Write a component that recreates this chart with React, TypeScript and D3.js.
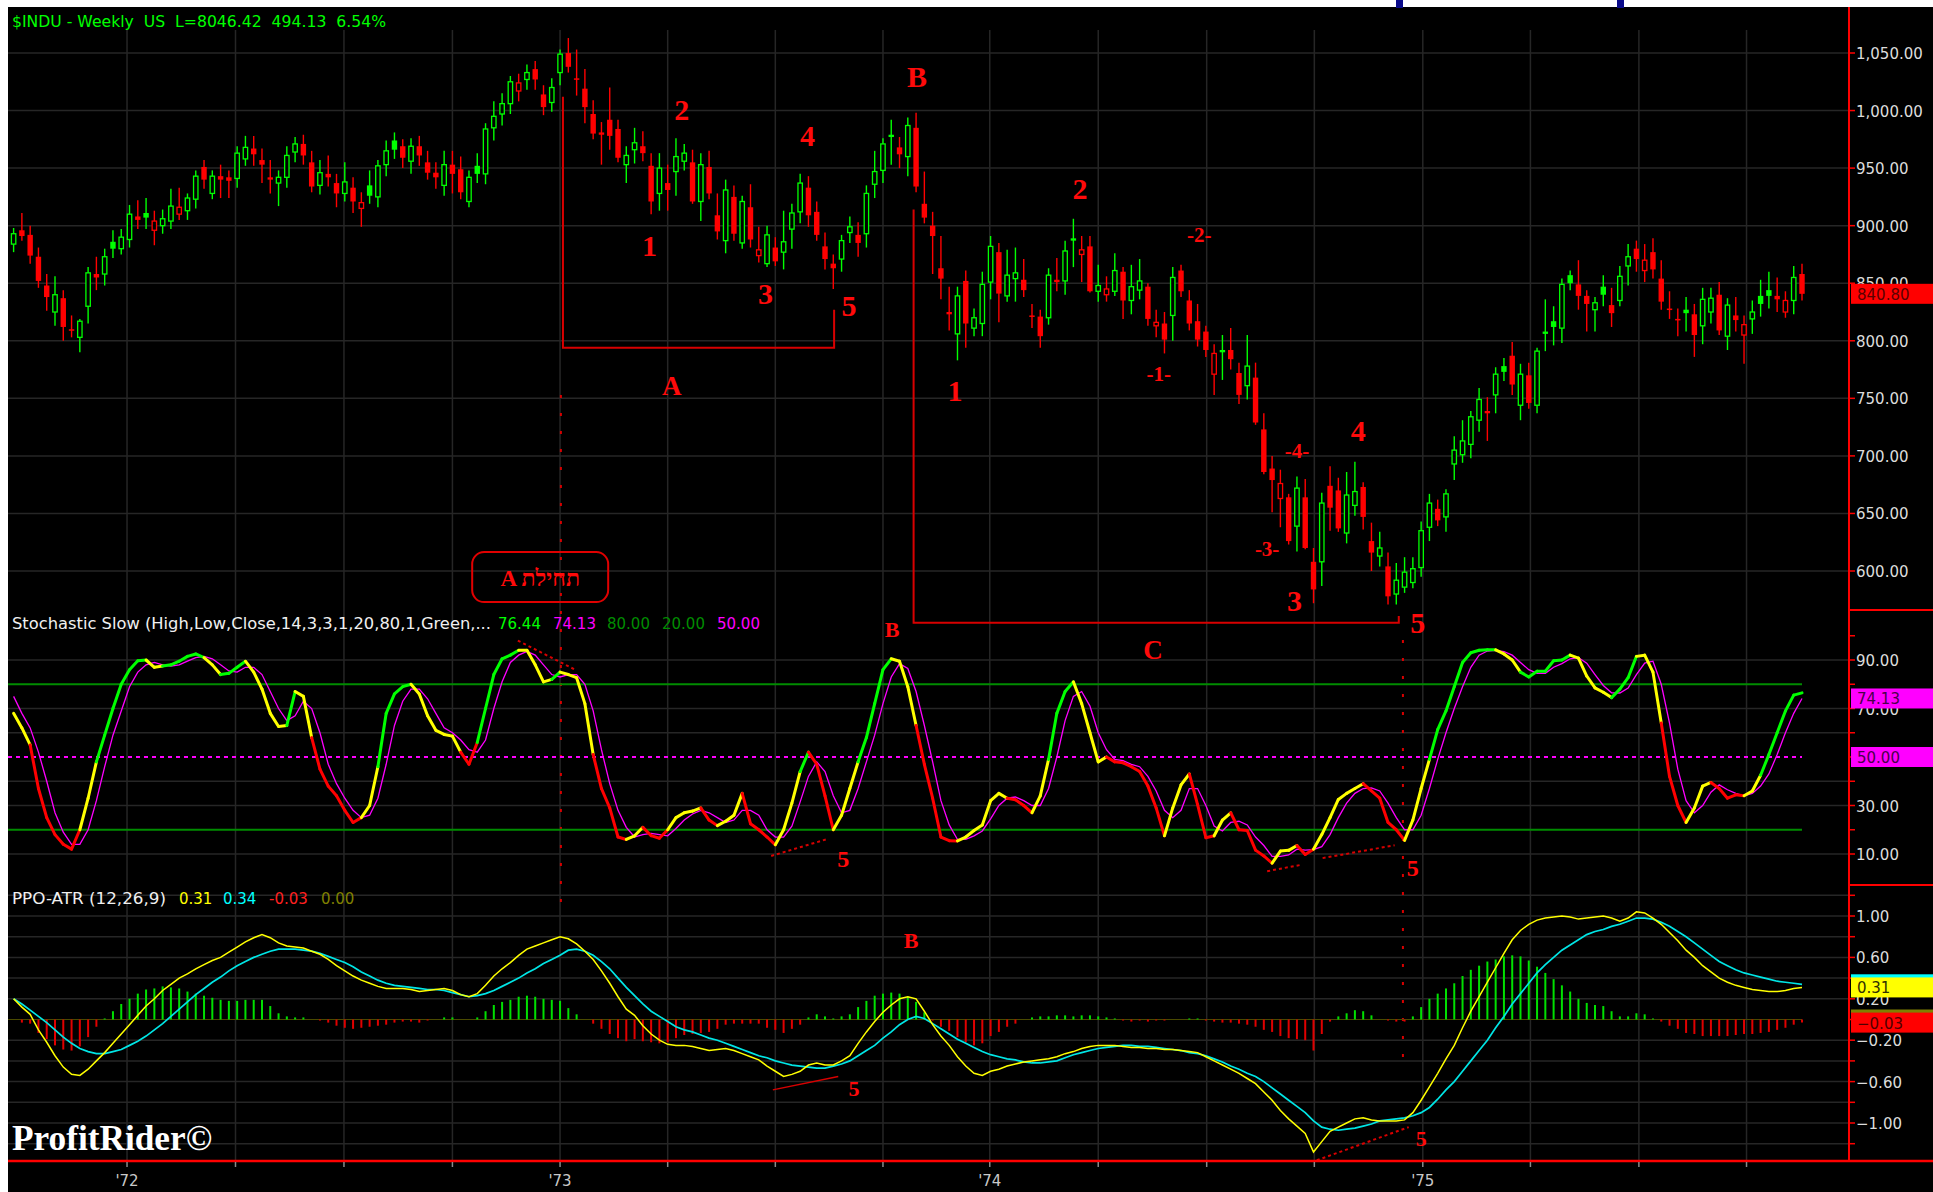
import React from "react";
import * as d3 from "d3";

// $INDU weekly candles, autumn 1971 to autumn 1975
const opens = [
  884, 896, 892, 873, 848, 825, 837, 810, 803, 830,
  858, 858, 886, 880, 888, 908, 911, 896, 900, 904,
  910, 913, 923, 951, 928, 943, 942, 941, 958, 967,
  957, 942, 937, 942, 964, 971, 955, 935, 945, 937,
  928, 933, 915, 935, 925, 953, 974, 969, 956, 969,
  955, 946, 935, 953, 949, 921, 952, 945, 985, 997,
  1006, 1017, 1027, 1036, 1014, 1007, 1033, 1050, 1028, 1019,
  997, 981, 992, 984, 953, 966, 969, 952, 928, 937,
  947, 956, 955, 921, 951, 909, 887, 925, 885, 916,
  874, 867, 881, 877, 897, 912, 933, 912, 882, 867,
  871, 894, 892, 893, 936, 948, 979, 968, 960, 985,
  919, 900, 863, 825, 806, 852, 811, 815, 851, 877,
  839, 854, 853, 822, 821, 820, 853, 852, 889, 875,
  882, 843, 840, 843, 860, 835, 844, 847, 813, 815,
  822, 861, 835, 817, 808, 771, 792, 792, 772, 761,
  768, 723, 689, 663, 664, 639, 664, 608, 608, 674,
  670, 633, 657, 673, 626, 613, 604, 580, 586, 590,
  603, 638, 654, 647, 693, 701, 710, 731, 739, 753,
  778, 787, 744, 770, 744, 808, 817, 811, 857, 849,
  839, 827, 847, 831, 835, 865, 880, 861, 877, 854,
  828, 819, 827, 823, 813, 825, 840, 804, 822, 805,
  819, 839, 844, 839, 825, 835, 858,
];
const highs = [
  898, 911, 900, 881, 858, 856, 844, 822, 819, 864,
  873, 880, 896, 897, 918, 922, 924, 913, 914, 932,
  933, 928, 948, 957, 948, 953, 948, 969, 978, 978,
  967, 957, 948, 969, 977, 979, 965, 957, 961, 945,
  955, 942, 929, 948, 957, 974, 981, 975, 976, 978,
  965, 955, 965, 965, 960, 948, 963, 989, 1008, 1015,
  1030, 1032, 1040, 1043, 1022, 1028, 1053, 1063, 1053, 1036,
  1009, 990, 1020, 992, 969, 985, 982, 963, 963, 953,
  976, 971, 966, 963, 965, 928, 940, 935, 926, 936,
  899, 900, 890, 913, 919, 945, 943, 921, 894, 875,
  892, 908, 903, 935, 965, 976, 992, 977, 994, 998,
  947, 912, 891, 847, 847, 861, 828, 860, 891, 885,
  879, 881, 871, 832, 827, 863, 872, 887, 906, 891,
  891, 866, 856, 876, 864, 866, 871, 850, 827, 825,
  864, 866, 844, 832, 813, 797, 805, 811, 781, 805,
  781, 737, 700, 688, 667, 682, 680, 620, 668, 691,
  681, 686, 695, 677, 642, 634, 616, 607, 612, 612,
  643, 667, 662, 671, 717, 731, 739, 759, 751, 777,
  785, 799, 780, 781, 794, 836, 830, 854, 861, 870,
  844, 838, 857, 846, 865, 884, 887, 884, 889, 870,
  843, 828, 838, 832, 846, 846, 851, 837, 838, 822,
  835, 853, 860, 855, 843, 865, 867,
];
const lows = [
  877, 887, 867, 846, 826, 813, 800, 803, 790, 815,
  844, 848, 872, 875, 881, 897, 897, 883, 893, 897,
  905, 905, 915, 932, 923, 924, 924, 933, 952, 952,
  937, 928, 917, 933, 955, 953, 929, 927, 934, 916,
  921, 911, 899, 919, 916, 943, 958, 950, 945, 952,
  940, 932, 926, 928, 923, 916, 937, 936, 974, 987,
  997, 1008, 1018, 1018, 996, 999, 1022, 1033, 1013, 989,
  975, 953, 966, 955, 937, 954, 956, 910, 913, 913,
  926, 948, 919, 904, 923, 888, 876, 887, 880, 881,
  868, 864, 865, 862, 880, 902, 899, 887, 862, 845,
  860, 885, 873, 881, 924, 937, 953, 950, 943, 929,
  902, 858, 836, 809, 783, 794, 804, 804, 836, 816,
  834, 834, 838, 811, 794, 814, 843, 840, 864, 851,
  842, 834, 834, 839, 819, 823, 836, 813, 803, 789,
  800, 838, 809, 795, 786, 753, 766, 775, 745, 749,
  727, 684, 651, 638, 623, 617, 619, 572, 587, 635,
  634, 624, 648, 636, 600, 604, 571, 571, 581, 585,
  595, 626, 639, 634, 679, 694, 698, 721, 713, 737,
  765, 753, 731, 741, 737, 791, 796, 798, 844, 827,
  808, 808, 830, 812, 830, 848, 860, 851, 854, 827,
  819, 804, 808, 786, 797, 815, 805, 792, 808, 780,
  806, 821, 828, 825, 820, 823, 835,
];
const closes = [
  893, 891, 874, 852, 838, 840, 812, 809, 817, 859,
  855, 873, 880, 890, 910, 905, 907, 904, 906, 917,
  916, 924, 943, 940, 943, 940, 939, 963, 968, 962,
  953, 940, 942, 961, 971, 961, 934, 946, 942, 928,
  938, 921, 920, 926, 952, 965, 966, 959, 969, 961,
  946, 942, 953, 945, 929, 942, 945, 984, 995, 1006,
  1025, 1024, 1033, 1027, 1003, 1020, 1049, 1038, 1027, 1003,
  980, 979, 978, 959, 961, 972, 963, 921, 950, 931,
  960, 963, 921, 953, 928, 895, 931, 893, 921, 888,
  879, 892, 869, 886, 911, 937, 909, 892, 871, 863,
  887, 899, 885, 928, 947, 971, 977, 962, 987, 934,
  907, 891, 854, 823, 839, 815, 820, 849, 882, 841,
  857, 859, 844, 821, 804, 857, 851, 878, 887, 879,
  843, 848, 845, 861, 835, 847, 852, 819, 816, 801,
  855, 843, 815, 801, 792, 789, 790, 784, 753, 778,
  729, 686, 679, 676, 626, 672, 620, 584, 659, 655,
  637, 666, 669, 647, 616, 620, 578, 592, 599, 602,
  635, 659, 644, 667, 705, 713, 734, 749, 737, 771,
  773, 762, 771, 746, 791, 806, 812, 849, 850, 839,
  832, 833, 840, 824, 856, 873, 871, 870, 862, 834,
  827, 818, 824, 805, 836, 837, 809, 831, 818, 814,
  825, 832, 839, 836, 835, 855, 840.8,
];

// Stochastic Slow %K and %D
const stochK = [
  68, 62, 55, 37, 25, 18, 14, 12, 20, 33,
  48, 59, 70, 80, 86, 89.7, 90, 87, 87.5, 88,
  89.5, 91.5, 92.5, 91, 88, 84, 84.5, 87, 89.5, 85,
  78, 68, 62.6, 63, 77, 75, 58, 45, 38, 34,
  28, 23, 25, 30, 46, 68, 76, 79, 80, 76,
  67, 61, 59.3, 58.6, 52, 47, 56, 70, 84, 90.5,
  92, 94, 94, 88, 81, 82, 85, 84, 82.7, 72,
  51, 37, 29, 17, 16, 17.5, 21, 17.6, 16.5, 20,
  25, 27, 27.7, 29, 24, 21.7, 23.5, 26, 35, 22.5,
  20, 17, 13.8, 20, 31, 44, 52, 47, 34, 20,
  26, 37, 48, 58, 72, 86, 90.5, 89.5, 79, 63,
  47, 33, 17, 15.5, 15.4, 17, 19.7, 22, 32, 35,
  33, 32.4, 30, 27, 34, 49, 68, 77, 81, 72,
  60, 48, 50, 48, 47.6, 46, 44, 38, 29, 17.5,
  29, 38.5, 43, 30.4, 16.7, 17.5, 24, 27, 20, 19.7,
  11.6, 9.2, 6.2, 11.2, 11.5, 13.5, 9.8, 12, 18, 25,
  32.5, 35, 37, 39, 36, 33, 23, 20, 15.6, 24,
  37, 49, 61.3, 69, 79, 89, 93, 94, 94.2, 94.2,
  92.5, 90, 85, 83, 85.4, 85.4, 89.7, 90, 92, 90.8,
  83.4, 78.5, 76.7, 74.5, 78, 82.7, 91.5, 92, 85, 64,
  42, 30, 23, 29, 38, 39.5, 37, 33, 34.4, 34,
  36, 42.5, 51, 60, 69, 75.5, 76.44,
];
const stochD = [
  75, 68, 62, 52, 40, 27, 19, 14, 14, 20,
  32, 46, 59, 69, 79, 85, 88, 89, 88, 87.5,
  88, 89.5, 91, 91.5, 90.5, 88, 85.5, 85, 87, 87,
  84, 77, 70, 65, 67, 73, 70, 60, 47, 39,
  33, 28, 25, 26, 33, 47, 63, 73, 78, 78,
  74, 68, 62, 60, 57, 53, 52, 57, 70, 81,
  89, 92, 93.5, 92, 88, 84, 83, 84, 84, 80,
  69, 53, 39, 28, 21, 17, 18, 18.5, 18, 17.5,
  20.5, 24, 26.5, 28, 27, 25, 23, 24, 28, 28,
  26, 20, 17, 17, 21.5, 31.5, 42, 48, 44, 34,
  27, 28, 37, 48, 59, 72, 83, 88.5, 86.5, 77,
  63, 48, 32, 22, 16, 16, 17.5, 19.5, 24.5, 30,
  33, 33.5, 32, 30, 30, 37, 50, 65, 75, 77,
  71, 60, 53, 49, 48.5, 47, 46, 42, 36, 28,
  25, 28, 37, 37, 30, 21.5, 19.5, 23, 23.5, 22,
  17, 13.5, 9, 9, 9.6, 12, 11.6, 11.8, 13, 18,
  25, 31, 35, 37, 37.3, 36, 31, 25, 20, 20,
  26, 37, 49, 60, 70, 79, 87, 92, 93.7, 94,
  93.5, 92, 89, 86, 84.5, 84.5, 87, 88.5, 90.5, 91,
  88.7, 84, 79.5, 76.5, 76.4, 78.4, 84, 88.7, 89.5, 80,
  64, 45, 32, 27, 30, 35.5, 38.5, 36.5, 35, 34,
  35, 38, 43, 51, 60, 68, 74.13,
];
// colour of the %K line at each week: g green, y yellow, r red
const stochColors =
  "yyyrrrrrry" + "yggggggyyg" + "ggggyygggy" + "yyyygyyrrr" + "rrryyggggy" +
  "yyyyyrrggg" + "ggyyyygyyy" + "yrrrryyrrr" + "yyyyrryyyr" + "rrryyygrrr" +
  "yyyggggyyy" + "rrrrryyyyy" + "yrrryygggy" + "yyyrrrrrrr" + "yyyrrryyrr" +
  "rrryyyrryy" + "yyyyrrrrry" + "yygggggggg" + "yyyggggggy" + "yyyygggyyy" +
  "rrryyyrrrr" + "yyggggg";

// PPO-ATR (12,26,9): line and signal
const ppoLine = [
  0.2, 0.12, 0.05, -0.1, -0.22, -0.35, -0.46, -0.53, -0.54, -0.48,
  -0.4, -0.32, -0.23, -0.14, -0.05, 0.04, 0.13, 0.2, 0.28, 0.34,
  0.4, 0.44, 0.49, 0.53, 0.57, 0.6, 0.65, 0.7, 0.75, 0.79,
  0.82, 0.79, 0.74, 0.71, 0.7, 0.69, 0.66, 0.63, 0.58, 0.52,
  0.47, 0.42, 0.38, 0.35, 0.32, 0.3, 0.3, 0.3, 0.29, 0.27,
  0.28, 0.29, 0.3, 0.28, 0.24, 0.22, 0.25, 0.33, 0.42, 0.49,
  0.55, 0.62, 0.68, 0.71, 0.74, 0.77, 0.8, 0.78, 0.73, 0.66,
  0.58, 0.47, 0.35, 0.22, 0.1, 0.04, -0.06, -0.14, -0.2, -0.24,
  -0.25, -0.25, -0.26, -0.28, -0.3, -0.29, -0.28, -0.3, -0.33, -0.36,
  -0.39, -0.45, -0.5, -0.55, -0.53, -0.5, -0.44, -0.42, -0.44, -0.44,
  -0.4, -0.35, -0.23, -0.12, -0.02, 0.07, 0.14, 0.2, 0.22, 0.2,
  0.08, -0.05, -0.16, -0.25, -0.36, -0.45, -0.52, -0.54, -0.5, -0.48,
  -0.45, -0.43, -0.41, -0.4, -0.39, -0.38, -0.36, -0.33, -0.31, -0.28,
  -0.26, -0.25, -0.25, -0.25, -0.26, -0.27, -0.27, -0.28, -0.28, -0.29,
  -0.29, -0.3, -0.31, -0.32, -0.36, -0.4, -0.44, -0.48, -0.52, -0.57,
  -0.62, -0.7, -0.78, -0.88, -0.96, -1.03, -1.1, -1.28, -1.18, -1.08,
  -1.04, -1.0, -0.96, -0.95, -0.97, -0.98, -0.98, -0.98, -0.97, -0.9,
  -0.78, -0.65, -0.52, -0.38, -0.25, -0.08, 0.08, 0.22, 0.36, 0.5,
  0.64, 0.77, 0.86, 0.92, 0.96, 0.98, 0.99, 1.0, 0.99, 0.97,
  0.98, 0.99, 1.0, 0.98, 0.95, 0.98, 1.04, 1.03, 0.98, 0.92,
  0.84, 0.76, 0.67, 0.6, 0.52, 0.46, 0.4, 0.36, 0.33, 0.31,
  0.29, 0.28, 0.27, 0.27, 0.28, 0.3, 0.31,
];
const ppoSignal = [
  0.2, 0.15, 0.09, 0.03, -0.03, -0.1, -0.17, -0.23, -0.28, -0.31,
  -0.33, -0.33, -0.31, -0.29, -0.25, -0.21, -0.16, -0.1, -0.04, 0.03,
  0.1, 0.17, 0.24, 0.3, 0.36, 0.41, 0.47, 0.52, 0.56, 0.6,
  0.63, 0.66, 0.68, 0.68, 0.68, 0.67, 0.66, 0.64, 0.61, 0.58,
  0.55, 0.51, 0.46, 0.42, 0.38, 0.35, 0.33, 0.32, 0.31, 0.3,
  0.29, 0.29, 0.28, 0.26, 0.24, 0.22, 0.23, 0.25, 0.28, 0.32,
  0.36, 0.4, 0.45, 0.49, 0.54, 0.58, 0.62, 0.67, 0.68, 0.66,
  0.62, 0.56, 0.49, 0.4, 0.31, 0.23, 0.15, 0.08, 0.03, -0.02,
  -0.07, -0.1, -0.12, -0.15, -0.18, -0.2, -0.23, -0.26, -0.29, -0.32,
  -0.35, -0.37, -0.4, -0.42, -0.44, -0.45, -0.46, -0.47, -0.47, -0.45,
  -0.43, -0.4, -0.35, -0.3, -0.25, -0.18, -0.12, -0.05, 0.0, 0.03,
  0.01, -0.04, -0.09, -0.14, -0.19, -0.23, -0.27, -0.31, -0.34, -0.36,
  -0.38, -0.39, -0.41, -0.42, -0.42, -0.41, -0.4, -0.37, -0.34, -0.32,
  -0.3, -0.28, -0.27, -0.26, -0.25, -0.25, -0.26, -0.26, -0.27, -0.28,
  -0.29, -0.3, -0.32, -0.33, -0.35, -0.38, -0.41, -0.45, -0.48, -0.52,
  -0.55, -0.6, -0.66, -0.72, -0.78, -0.84, -0.9, -0.98, -1.04, -1.06,
  -1.07, -1.06, -1.05, -1.03, -1.01, -0.98, -0.97, -0.96, -0.95, -0.93,
  -0.9, -0.85, -0.77, -0.68, -0.6, -0.5, -0.4, -0.3, -0.2, -0.08,
  0.03, 0.15, 0.25, 0.35, 0.45, 0.53, 0.6, 0.67, 0.72, 0.77,
  0.82, 0.85, 0.87, 0.9, 0.92, 0.95, 0.98, 0.98, 0.97, 0.94,
  0.9, 0.85, 0.8, 0.74, 0.68, 0.62, 0.56, 0.52, 0.48, 0.45,
  0.43, 0.41, 0.39, 0.37, 0.36, 0.35, 0.34,
];

// time axis: quarter gridlines (week index) and year labels
const quarterWeeks = [13.7, 26.8, 39.9, 53.0, 66.0, 79.0, 92.0, 105.0, 117.9, 131.0, 144.1, 157.1, 170.2, 183.2, 196.3, 209.3];
const yearWeeks = [13.7, 66.0, 117.9, 170.2];
const yearNames = ["'72", "'73", "'74", "'75"];

const priceTicks = [600, 650, 700, 750, 800, 850, 900, 950, 1000, 1050];
const stochGrid = [10, 30, 40, 60, 70, 90];
const stochTicks = [10, 20, 30, 40, 50, 60, 70, 80, 90, 100];
const stochLabels = [10, 30, 70, 90]; // 50.00 sits under its own value box
const ppoTicks = [-1.2, -1.0, -0.8, -0.6, -0.4, -0.2, 0, 0.2, 0.4, 0.6, 0.8, 1.0, 1.2];
const ppoLabels = [-1.0, -0.6, -0.2, 0.2, 0.6, 1.0];

// wave annotations drawn on the chart
const priceNotes = [
  { t: "B", w: 109.1, v: 1030, s: 30 },
  { t: "2", w: 80.7, v: 1001, s: 30 },
  { t: "4", w: 95.9, v: 978, s: 30 },
  { t: "1", w: 76.8, v: 883, s: 30 },
  { t: "3", w: 90.8, v: 841, s: 30 },
  { t: "5", w: 100.9, v: 831, s: 30 },
  { t: "A", w: 79.5, v: 761, s: 27 },
  { t: "2", w: 128.8, v: 932, s: 30 },
  { t: "-2-", w: 143.2, v: 892, s: 21 },
  { t: "-1-", w: 138.3, v: 771, s: 21 },
  { t: "1", w: 113.7, v: 757, s: 30 },
  { t: "4", w: 162.4, v: 722, s: 30 },
  { t: "-4-", w: 155, v: 704, s: 21 },
  { t: "-3-", w: 151.4, v: 619, s: 21 },
  { t: "3", w: 154.7, v: 574, s: 30 },
  { t: "5", w: 169.6, v: 555, s: 30 },
];
const stochNotes = [
  { t: "B", w: 106.1, v: 102.4, s: 22 },
  { t: "5", w: 100.2, v: 8, s: 24 },
  { t: "5", w: 169, v: 4.4, s: 24 },
  { t: "C", w: 137.6, v: 94, s: 27 },
];
const ppoNotes = [
  { t: "B", w: 108.4, v: 0.76, s: 22 },
  { t: "5", w: 101.5, v: -0.67, s: 22 },
  { t: "5", w: 170, v: -1.15, s: 22 },
];
const bracketA = [[66.35, 1012], [66.35, 794], [99.1, 794], [99.1, 827]];
const bracketC = [[108.7, 914], [108.7, 555], [167.3, 555], [167.3, 561]];
const stochDotted = [
  [[60.9, 98], [68, 85.7]],
  [[91.5, 9.2], [98.4, 16.3]],
  [[151.4, 2.9], [155.6, 5.6]],
  [[158.1, 8.3], [166.8, 13.6]],
];
const ppoSolid = [[91.7, -0.68], [99.6, -0.55]];
const ppoDotted = [[157.4, -1.36], [168.5, -1.04]];

const W = 1933;
const H = 1192;
const LEFT = 8;
const TOP = 7;
const AXIS_X = 1849;
const PRICE_BOTTOM = 610;
const STOCH_BOTTOM = 885;
const PPO_BOTTOM = 1161;

const GREEN = "#00ff00";
const RED = "#ff0000";
const GRID = "#262626";
const NOTE = "#ff0a0a";
const SERIF = "'Liberation Serif', 'DejaVu Serif', serif";
const HEAD_FONT = "'DejaVu Sans', 'Liberation Sans', sans-serif";
const AXIS_FONT = "'DejaVu Sans', 'Liberation Sans', sans-serif";

const App = () => {
  const n = closes.length;
  const x = d3.scaleLinear().domain([0, n - 1]).range([13.6, 1802]);
  const yPrice = d3.scaleLinear().domain([600, 1050]).range([571, 53]);
  const yStoch = d3.scaleLinear().domain([10, 90]).range([854, 660]);
  const yPpo = d3.scaleLinear().domain([-1, 1]).range([1123, 916]);

  const line = d3.line<number[]>().x((d) => x(d[0])).y((d) => d[1]);
  const dLine = line(stochD.map((v, i) => [i, yStoch(v)]));
  const ppoPath = line(ppoLine.map((v, i) => [i, yPpo(v)]));
  const sigPath = line(ppoSignal.map((v, i) => [i, yPpo(v)]));
  const kColor = (c: string) => (c === "g" ? GREEN : c === "y" ? "#ffff00" : RED);

  const fmt = d3.format(",.2f");
  const fmt2 = d3.format(".2f");

  const valueBox = (y: number, fill: string, text: string, textFill: string, key: string) => (
    <g key={key}>
      <rect x={AXIS_X + 2} y={y - 10} width={W - AXIS_X - 2} height={20} fill={fill} />
      <text x={AXIS_X + 8} y={y + 1} fill={textFill} fontSize={15} fontFamily={AXIS_FONT} dominantBaseline="central">
        {text}
      </text>
    </g>
  );

  const noteText = (d: { t: string; w: number; v: number; s: number }, yS: (v: number) => number, key: string) => (
    <text
      key={key}
      x={x(d.w)}
      y={yS(d.v)}
      fill={NOTE}
      fontSize={d.s}
      fontWeight="bold"
      fontFamily={SERIF}
      textAnchor="middle"
      dominantBaseline="central"
    >
      {d.t}
    </text>
  );

  const boxCx = x(63.6);
  const boxCy = yPrice(594.7);

  return (
    <div style={{ position: "fixed", left: 0, top: 0, width: W, height: H }}>
      <svg width={W} height={H} style={{ display: "block" }}>
        <rect width={W} height={H} fill="#ffffff" />
        <rect x={LEFT} y={TOP} width={W - LEFT} height={H - TOP} fill="#000000" />
        <rect x={1396} y={0} width={7} height={8} fill="#0a0a8a" />
        <rect x={1617} y={0} width={7} height={8} fill="#0a0a8a" />

        {/* grid */}
        <g stroke={GRID} strokeWidth={1.5}>
          {quarterWeeks.map((w, i) => (
            <line key={"q" + i} x1={x(w)} x2={x(w)} y1={30} y2={PPO_BOTTOM} />
          ))}
          {priceTicks.map((p) => (
            <line key={"p" + p} x1={LEFT} x2={AXIS_X} y1={yPrice(p)} y2={yPrice(p)} />
          ))}
          {stochGrid.map((v) => (
            <line key={"s" + v} x1={LEFT} x2={AXIS_X} y1={yStoch(v)} y2={yStoch(v)} />
          ))}
          {ppoTicks.filter((v) => v !== 0).map((v) => (
            <line key={"o" + v} x1={LEFT} x2={AXIS_X} y1={yPpo(v)} y2={yPpo(v)} />
          ))}
        </g>

        {/* candles */}
        <g>
          {closes.map((c, i) => {
            const o = opens[i];
            const up = i === 0 ? c >= o : c >= closes[i - 1];
            const col = up ? GREEN : RED;
            const hollow = c > o;
            const yTop = yPrice(Math.max(o, c));
            const hBody = Math.max(1.5, Math.abs(yPrice(o) - yPrice(c)));
            const cx = x(i);
            return (
              <g key={"c" + i}>
                <line x1={cx} x2={cx} y1={yPrice(highs[i])} y2={yPrice(lows[i])} stroke={col} strokeWidth={1.4} />
                {hollow ? (
                  <rect x={cx - 2.2} y={yTop} width={4.4} height={hBody} fill="#000" stroke={col} strokeWidth={1.3} />
                ) : (
                  <rect x={cx - 2.7} y={yTop} width={5.4} height={hBody} fill={col} />
                )}
              </g>
            );
          })}
        </g>

        {/* price annotations */}
        <path
          d={d3.line()(bracketA.map((d) => [x(d[0]), yPrice(d[1])]) as [number, number][]) || ""}
          fill="none"
          stroke="#d80000"
          strokeWidth={2}
        />
        <path
          d={d3.line()(bracketC.map((d) => [x(d[0]), yPrice(d[1])]) as [number, number][]) || ""}
          fill="none"
          stroke="#d80000"
          strokeWidth={2}
        />
        <line x1={x(66.1)} x2={x(66.1)} y1={yPrice(753)} y2={yPpo(1.1)} stroke="#d80000" strokeWidth={2} strokeDasharray="3,15" />
        <line x1={x(167.8)} x2={x(167.8)} y1={yPrice(540)} y2={yPpo(-0.4)} stroke="#d80000" strokeWidth={2} strokeDasharray="3,15" />
        {priceNotes.map((d, i) => noteText(d, yPrice, "pn" + i))}
        <rect x={boxCx - 68} y={boxCy - 25} width={136} height={50} rx={12} fill="none" stroke="#e00000" strokeWidth={2} />
        <text x={boxCx} y={boxCy + 1} fill={NOTE} fontSize={23} fontWeight="bold" fontFamily={SERIF} textAnchor="middle" dominantBaseline="central">
          {"A תחילת"}
        </text>

        {/* stochastic */}
        <line x1={LEFT} x2={x(n - 1)} y1={yStoch(80)} y2={yStoch(80)} stroke="#008c00" strokeWidth={1.8} />
        <line x1={LEFT} x2={x(n - 1)} y1={yStoch(20)} y2={yStoch(20)} stroke="#008c00" strokeWidth={1.8} />
        <line x1={LEFT} x2={x(n - 1)} y1={yStoch(50)} y2={yStoch(50)} stroke="#ff00ff" strokeWidth={1.8} strokeDasharray="4,4" />
        <path d={dLine || ""} fill="none" stroke="#ff00ff" strokeWidth={1.3} />
        <g strokeWidth={3} strokeLinecap="round" fill="none">
          {stochK.slice(1).map((v, j) => {
            const i = j + 1;
            return (
              <line
                key={"k" + i}
                x1={x(i - 1)}
                y1={yStoch(stochK[i - 1])}
                x2={x(i)}
                y2={yStoch(v)}
                stroke={kColor(stochColors[i])}
              />
            );
          })}
        </g>
        {stochDotted.map((seg, i) => (
          <line
            key={"sd" + i}
            x1={x(seg[0][0])}
            y1={yStoch(seg[0][1])}
            x2={x(seg[1][0])}
            y2={yStoch(seg[1][1])}
            stroke="#d80000"
            strokeWidth={2}
            strokeDasharray="3,3"
          />
        ))}
        {stochNotes.map((d, i) => noteText(d, yStoch, "sn" + i))}

        {/* PPO */}
        <line x1={LEFT} x2={x(n - 1)} y1={yPpo(0)} y2={yPpo(0)} stroke="#4a4a00" strokeWidth={1} />
        <g strokeWidth={2}>
          {ppoLine.map((v, i) => {
            const h = v - ppoSignal[i];
            return (
              <line key={"h" + i} x1={x(i)} x2={x(i)} y1={yPpo(0)} y2={yPpo(h)} stroke={h >= 0 ? "#00e000" : "#e00000"} />
            );
          })}
        </g>
        <path d={sigPath || ""} fill="none" stroke="#00e5e5" strokeWidth={1.7} />
        <path d={ppoPath || ""} fill="none" stroke="#ffff00" strokeWidth={1.5} />
        <line x1={x(ppoSolid[0][0])} y1={yPpo(ppoSolid[0][1])} x2={x(ppoSolid[1][0])} y2={yPpo(ppoSolid[1][1])} stroke="#d80000" strokeWidth={1.5} />
        <line x1={x(ppoDotted[0][0])} y1={yPpo(ppoDotted[0][1])} x2={x(ppoDotted[1][0])} y2={yPpo(ppoDotted[1][1])} stroke="#d80000" strokeWidth={2} strokeDasharray="3,3" />
        {ppoNotes.map((d, i) => noteText(d, yPpo, "on" + i))}

        {/* headers */}
        <g fontSize={15} fontFamily={HEAD_FONT} dominantBaseline="central">
          <text x={12} y={22} fill={GREEN} textLength={374} lengthAdjust="spacingAndGlyphs" style={{ whiteSpace: "pre" }}>
            {"$INDU - Weekly  US  L=8046.42  494.13  6.54%"}
          </text>
          <text x={12} y={624} fill="#f0f0f0" textLength={479} lengthAdjust="spacingAndGlyphs">
            Stochastic Slow (High,Low,Close,14,3,3,1,20,80,1,Green,...
          </text>
          <text x={498} y={624} fill={GREEN}>76.44</text>
          <text x={553} y={624} fill="#ff00ff">74.13</text>
          <text x={607} y={624} fill="#008c00">80.00</text>
          <text x={662} y={624} fill="#008c00">20.00</text>
          <text x={717} y={624} fill="#ff00ff">50.00</text>
          <text x={12} y={899} fill="#f0f0f0" textLength={154} lengthAdjust="spacingAndGlyphs">
            PPO-ATR (12,26,9)
          </text>
          <text x={179} y={899} fill="#ffff00">0.31</text>
          <text x={223} y={899} fill="#00ffff">0.34</text>
          <text x={269} y={899} fill="#ff2020">-0.03</text>
          <text x={321} y={899} fill="#808000">0.00</text>
        </g>

        {/* right axis */}
        <line x1={AXIS_X} x2={AXIS_X} y1={TOP} y2={PPO_BOTTOM} stroke={RED} strokeWidth={2} />
        <line x1={AXIS_X} x2={W} y1={PRICE_BOTTOM} y2={PRICE_BOTTOM} stroke={RED} strokeWidth={2} />
        <line x1={AXIS_X} x2={W} y1={STOCH_BOTTOM} y2={STOCH_BOTTOM} stroke={RED} strokeWidth={2} />
        <g fill="#dcdcdc" fontSize={15} fontFamily={AXIS_FONT} dominantBaseline="central">
          {priceTicks.map((p) => (
            <g key={"pt" + p}>
              <line x1={AXIS_X} x2={AXIS_X + 6} y1={yPrice(p)} y2={yPrice(p)} stroke={RED} strokeWidth={1.5} />
              <text x={AXIS_X + 7} y={yPrice(p) + 1}>{fmt(p)}</text>
            </g>
          ))}
          {stochTicks.map((v) => (
            <line key={"st" + v} x1={AXIS_X} x2={AXIS_X + 6} y1={yStoch(v)} y2={yStoch(v)} stroke={RED} strokeWidth={1.5} />
          ))}
          {stochLabels.map((v) => (
            <text key={"sl" + v} x={AXIS_X + 7} y={yStoch(v) + 1}>{fmt2(v)}</text>
          ))}
          {ppoTicks.map((v) => (
            <line key={"ot" + v} x1={AXIS_X} x2={AXIS_X + 6} y1={yPpo(v)} y2={yPpo(v)} stroke={RED} strokeWidth={1.5} />
          ))}
          {ppoLabels.map((v) => (
            <text key={"ol" + v} x={AXIS_X + 7} y={yPpo(v) + 1}>{fmt2(v)}</text>
          ))}
        </g>
        {valueBox(yPrice(closes[n - 1]), RED, fmt2(closes[n - 1]), "#5a0000", "vb1")}
        {valueBox(yStoch(50), "#ff00ff", "50.00", "#4a004a", "vb2")}
        {valueBox(yStoch(stochD[n - 1]), "#ff00ff", fmt2(stochD[n - 1]), "#4a004a", "vb3")}
        {valueBox(yPpo(ppoSignal[n - 1]), "#00ffff", fmt2(ppoSignal[n - 1]), "#003030", "vb4")}
        {valueBox(yPpo(ppoLine[n - 1]), "#ffff00", fmt2(ppoLine[n - 1]), "#303000", "vb5")}
        {valueBox(yPpo(0), "#808000", "0.00", "#202000", "vb6")}
        {valueBox(yPpo(ppoLine[n - 1] - ppoSignal[n - 1]), RED, fmt2(ppoLine[n - 1] - ppoSignal[n - 1]), "#500000", "vb7")}

        {/* bottom time axis */}
        <line x1={LEFT} x2={W} y1={PPO_BOTTOM} y2={PPO_BOTTOM} stroke={RED} strokeWidth={2.5} />
        {quarterWeeks.map((w, i) => (
          <line key={"qt" + i} x1={x(w)} x2={x(w)} y1={PPO_BOTTOM + 1} y2={PPO_BOTTOM + 6} stroke="#8a8a8a" strokeWidth={1.5} />
        ))}
        {yearWeeks.map((w, i) => (
          <text key={"yr" + i} x={x(w)} y={1181} fill="#c8c8c8" fontSize={15} fontFamily={AXIS_FONT} textAnchor="middle" dominantBaseline="central">
            {yearNames[i]}
          </text>
        ))}

        <text x={12} y={1150} fill="#ffffff" fontSize={35} fontWeight="bold" fontFamily={SERIF} textLength={200} lengthAdjust="spacingAndGlyphs">
          ProfitRider©
        </text>
      </svg>
    </div>
  );
};

export default App;
